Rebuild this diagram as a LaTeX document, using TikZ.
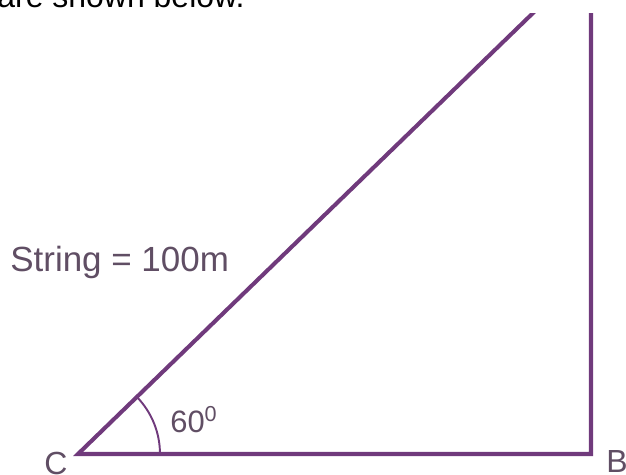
\documentclass[tikz,border=0pt]{standalone}
\usepackage{fontspec}
\setmainfont{Liberation Sans}
\usepackage{tikz}
\usetikzlibrary{positioning}
\definecolor{kitepurple}{RGB}{112,58,124}
\definecolor{labelgray}{RGB}{96,78,100}

\begin{document}
\begin{tikzpicture}[
        x=0.02cm, y=0.02cm,
        side/.style={draw=kitepurple, line width=2.3pt},
        angle arc/.style={draw=kitepurple, line width=1.1pt},
        text node/.style={anchor=base west, inner sep=0pt, text=labelgray}
    ]

    % Page frame (626 x 475 px), everything outside is cut
    \clip (0,0) rectangle (626,475);

    % Define positions of the corners
    \def\base{21}   % height of the ground line
    \def\cpos{78}
    \def\bpos{591}
    \coordinate (C) at (\cpos, \base);
    \coordinate (B) at (\bpos, \base);
    \coordinate (A) at (551.6, 480);
    \coordinate (T) at (\bpos, 480);

    % Text of the line above, cut by the top edge
    \node[text node, text=black, font=\fontsize{18.2pt}{22pt}\selectfont] (topline) at (-3, 467.5) {are shown below.};

    % Draw the triangle, the top is cut off at y = 461
    \begin{scope}
        \clip (0,0) rectangle (626,461);
        \draw[side] (A) -- (C) -- (B) -- (T);
    \end{scope}

    % Angle at C
    \draw[angle arc] ([xshift=1.64cm]C) arc[start angle=0, end angle=44.1, radius=1.64cm];

    % Labels
    \node[text node, font=\fontsize{19.9pt}{24pt}\selectfont] (stringlabel) at (10, 203) {String = 100m};
    \node[text node, font=\fontsize{17.6pt}{21pt}\selectfont] (anglelabel) at (170, 42) {60\textsuperscript{0}};
    \node[text node, font=\fontsize{18.2pt}{22pt}\selectfont] (labelC) at (44, 0) {C};
    \node[text node, font=\fontsize{18.2pt}{22pt}\selectfont] (labelB) at (606, 2) {B};

\end{tikzpicture}
\end{document}
